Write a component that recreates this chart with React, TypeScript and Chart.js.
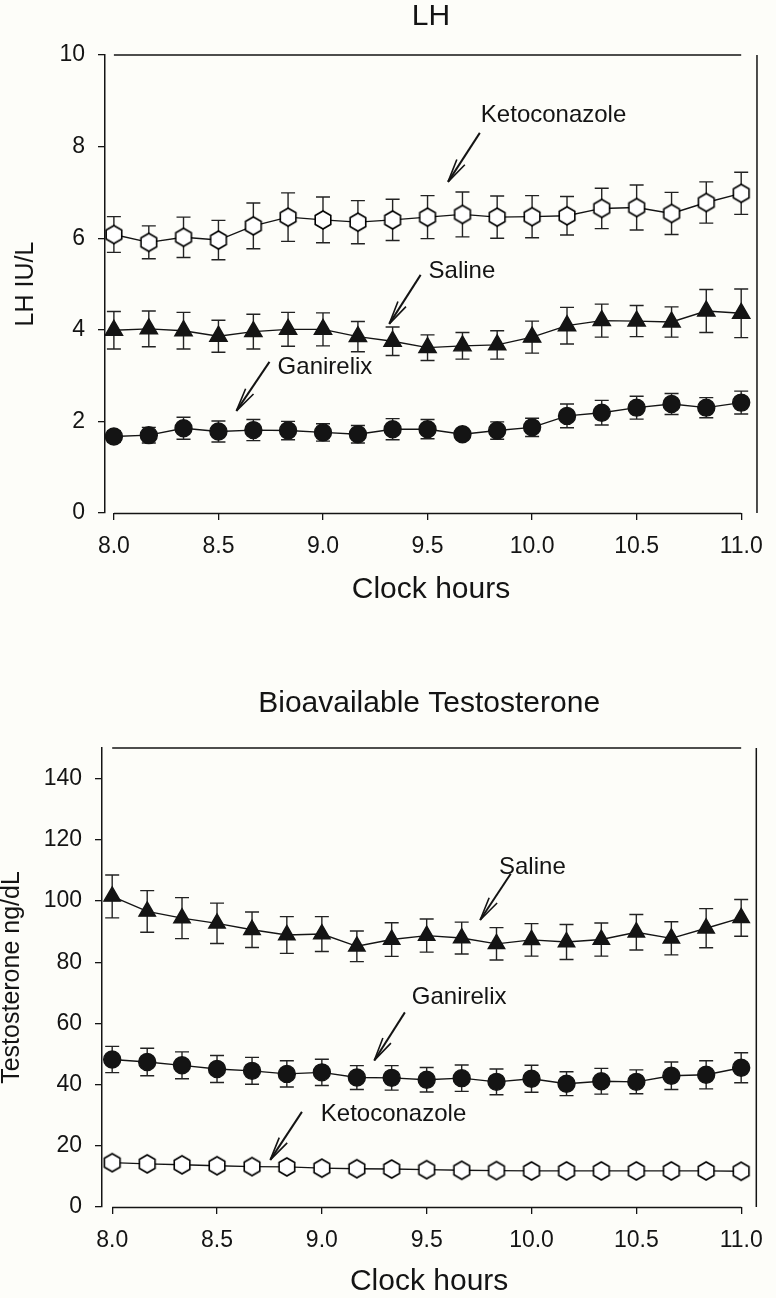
import React, { useEffect, useRef } from "react";
import { Chart, registerables } from "chart.js";

Chart.register(...registerables);

// ---------- data ----------
const hours = [8.0, 8.167, 8.333, 8.5, 8.667, 8.833, 9.0, 9.167, 9.333, 9.5, 9.667, 9.833, 10.0, 10.167, 10.333, 10.5, 10.667, 10.833, 11.0];
const xTickValues = [8.0, 8.5, 9.0, 9.5, 10.0, 10.5, 11.0];

const lhYTicks = [0, 2, 4, 6, 8, 10];
const lhKeto = [6.08, 5.91, 6.02, 5.96, 6.27, 6.46, 6.40, 6.35, 6.40, 6.46, 6.52, 6.46, 6.47, 6.49, 6.65, 6.67, 6.54, 6.78, 6.98];
const lhKetoErr = [0.39, 0.36, 0.44, 0.43, 0.50, 0.53, 0.50, 0.47, 0.45, 0.47, 0.49, 0.46, 0.46, 0.42, 0.44, 0.49, 0.46, 0.45, 0.46];
const lhSaline = [3.99, 4.02, 3.98, 3.86, 3.96, 4.01, 4.01, 3.85, 3.75, 3.61, 3.65, 3.67, 3.84, 4.09, 4.20, 4.19, 4.17, 4.41, 4.36];
const lhSalineErr = [0.41, 0.39, 0.40, 0.35, 0.38, 0.37, 0.36, 0.33, 0.31, 0.28, 0.29, 0.31, 0.35, 0.40, 0.36, 0.34, 0.33, 0.47, 0.53];
const lhGan = [1.67, 1.70, 1.85, 1.78, 1.81, 1.80, 1.76, 1.72, 1.83, 1.83, 1.72, 1.80, 1.87, 2.12, 2.19, 2.30, 2.38, 2.30, 2.41];
const lhGanErr = [0.12, 0.17, 0.24, 0.23, 0.23, 0.20, 0.19, 0.19, 0.23, 0.21, 0.10, 0.19, 0.20, 0.26, 0.27, 0.25, 0.23, 0.22, 0.25];

const tYTicks = [0, 20, 40, 60, 80, 100, 120, 140];
const tSaline = [101.5, 96.6, 94.4, 92.7, 90.6, 88.9, 89.2, 85.2, 87.4, 88.7, 87.9, 86.0, 87.3, 86.6, 87.4, 89.8, 87.8, 91.1, 94.5];
const tSalineErr = [7.0, 6.8, 6.7, 6.6, 5.8, 6.0, 5.7, 5.0, 5.5, 5.4, 5.2, 5.3, 5.3, 5.7, 5.4, 5.8, 5.4, 6.4, 6.0];
const tGan = [48.2, 47.4, 46.3, 45.1, 44.5, 43.5, 44.0, 42.3, 42.2, 41.6, 42.1, 40.9, 41.9, 40.3, 41.1, 40.9, 42.9, 43.2, 45.5];
const tGanErr = [4.3, 4.5, 4.4, 4.4, 4.4, 4.3, 4.3, 3.9, 4.0, 4.0, 4.3, 4.2, 4.4, 3.9, 4.2, 3.9, 4.5, 4.6, 4.9];
const tKeto = [14.5, 14.1, 13.8, 13.5, 13.2, 13.1, 12.7, 12.5, 12.4, 12.2, 12.0, 11.9, 11.8, 11.8, 11.8, 11.8, 11.8, 11.8, 11.7];
const tKetoErr = [1.0, 1.0, 1.0, 0.9, 0.9, 0.9, 0.9, 0.9, 0.9, 0.9, 0.8, 0.8, 0.8, 0.8, 0.8, 0.8, 0.8, 0.8, 0.8];

// annotation labels and arrows, in data units
const lhNoteText = ["Ketoconazole", "Saline", "Ganirelix"];
const lhNoteTextX = [9.755, 9.505, 8.783];
const lhNoteTextY = [8.69, 5.27, 3.19];
const lhArrowFromX = [9.75, 9.467, 8.744];
const lhArrowFromY = [8.30, 5.20, 3.30];
const lhArrowTipX = [9.598, 9.317, 8.586];
const lhArrowTipY = [7.23, 4.13, 2.23];

const tNoteText = ["Saline", "Ganirelix", "Ketoconazole"];
const tNoteTextX = [9.845, 9.429, 8.995];
const tNoteTextY = [111.1, 68.5, 30.2];
const tArrowFromX = [9.901, 9.396, 8.905];
const tArrowFromY = [108.9, 63.6, 31.1];
const tArrowTipX = [9.755, 9.25, 8.754];
const tArrowTipY = [93.8, 47.9, 15.4];

// ---------- styling ----------
const FONT = "'Liberation Sans', Arial, Helvetica, sans-serif";
const INK = "#141414";
const BG = "#fdfdf9";

function makeHexagon(r: number): HTMLCanvasElement {
  const s = Math.ceil(r * 2 + 4);
  const c = document.createElement("canvas");
  c.width = s;
  c.height = s;
  const ctx = c.getContext("2d")!;
  ctx.translate(s / 2, s / 2);
  ctx.beginPath();
  for (let i = 0; i < 6; i++) {
    const a = -Math.PI / 2 + (i * Math.PI) / 3;
    const px = r * Math.cos(a);
    const py = r * Math.sin(a);
    if (i === 0) ctx.moveTo(px, py);
    else ctx.lineTo(px, py);
  }
  ctx.closePath();
  ctx.fillStyle = "#ffffff";
  ctx.fill();
  ctx.lineWidth = 1.6;
  ctx.strokeStyle = "#000000";
  ctx.stroke();
  return c;
}

const errorBarPlugin = {
  id: "errorBars",
  beforeDatasetsDraw(chart: any) {
    const ctx = chart.ctx;
    const ys = chart.scales.y;
    chart.data.datasets.forEach((ds: any, di: number) => {
      const errs = ds.errors;
      if (!errs) return;
      const meta = chart.getDatasetMeta(di);
      ctx.save();
      ctx.strokeStyle = "#222222";
      ctx.lineWidth = 1.4;
      meta.data.forEach((pt: any, i: number) => {
        const v = ds.data[i].y;
        const e = errs[i];
        const top = ys.getPixelForValue(v + e);
        const bot = ys.getPixelForValue(v - e);
        ctx.beginPath();
        ctx.moveTo(pt.x, top);
        ctx.lineTo(pt.x, bot);
        ctx.moveTo(pt.x - 7, top);
        ctx.lineTo(pt.x + 7, top);
        ctx.moveTo(pt.x - 7, bot);
        ctx.lineTo(pt.x + 7, bot);
        ctx.stroke();
      });
      ctx.restore();
    });
  },
};

const framePlugin = {
  id: "frame",
  beforeDatasetsDraw(chart: any) {
    const { ctx, chartArea } = chart;
    const xs = chart.scales.x;
    const x0 = xs.getPixelForValue(xTickValues[0]);
    const x1 = xs.getPixelForValue(xTickValues[xTickValues.length - 1]);
    ctx.save();
    ctx.strokeStyle = INK;
    ctx.lineWidth = 1.5;
    ctx.beginPath();
    ctx.moveTo(x0, chartArea.top);
    ctx.lineTo(x1, chartArea.top);
    ctx.moveTo(chartArea.right, chartArea.top);
    ctx.lineTo(chartArea.right, chartArea.bottom);
    ctx.moveTo(x0, chartArea.bottom + 0.5);
    ctx.lineTo(x1, chartArea.bottom + 0.5);
    ctx.stroke();
    ctx.restore();
  },
};

const textPlugin = {
  id: "panelText",
  afterDraw(chart: any) {
    const opts = chart.options.plugins.panelText;
    if (!opts) return;
    const { ctx, chartArea } = chart;
    const xs = chart.scales.x;
    const ys = chart.scales.y;
    ctx.save();
    ctx.fillStyle = INK;
    ctx.textBaseline = "middle";
    ctx.textAlign = "center";
    ctx.font = `${opts.titleSize}px ${FONT}`;
    ctx.fillText(opts.title, (chartArea.left + chartArea.right) / 2, opts.titleY);

    ctx.font = `24px ${FONT}`;
    ctx.textAlign = "left";
    ctx.strokeStyle = INK;
    opts.notes.forEach((n: any) => {
      ctx.fillText(n.text, xs.getPixelForValue(n.tx), ys.getPixelForValue(n.ty));
      const ax = xs.getPixelForValue(n.fx);
      const ay = ys.getPixelForValue(n.fy);
      const bx = xs.getPixelForValue(n.px);
      const by = ys.getPixelForValue(n.py);
      const ang = Math.atan2(ay - by, ax - bx);
      ctx.lineWidth = 2;
      ctx.beginPath();
      ctx.moveTo(ax, ay);
      ctx.lineTo(bx, by);
      ctx.stroke();
      ctx.lineWidth = 1.6;
      const L = 24;
      const spread = 0.2;
      ctx.beginPath();
      ctx.moveTo(bx, by);
      ctx.lineTo(bx + L * Math.cos(ang + spread), by + L * Math.sin(ang + spread));
      ctx.moveTo(bx, by);
      ctx.lineTo(bx + L * Math.cos(ang - spread), by + L * Math.sin(ang - spread));
      ctx.stroke();
    });
    ctx.restore();
  },
};

function buildNotes(text: string[], tx: number[], ty: number[], fx: number[], fy: number[], px: number[], py: number[]) {
  return text.map((t, i) => ({ text: t, tx: tx[i], ty: ty[i], fx: fx[i], fy: fy[i], px: px[i], py: py[i] }));
}

function pts(vals: number[]) {
  return vals.map((v, i) => ({ x: hours[i], y: v }));
}

interface PanelSpec {
  width: number;
  height: number;
  padTop: number;
  padRight: number;
  yWidth: number;
  xHeight: number;
  xMin: number;
  xMax: number;
  yMin: number;
  yMax: number;
  yTicks: number[];
  yTitle: string;
  yTitlePad: number;
  xTitlePad: number;
  xTitleLineHeight: number;
  title: string;
  titleY: number;
  datasets: any[];
  notes: any[];
}

function Panel({ spec, top }: { spec: PanelSpec; top: number }) {
  const ref = useRef<HTMLCanvasElement | null>(null);
  useEffect(() => {
    if (!ref.current) return;
    const chart = new Chart(ref.current, {
      type: "line",
      data: { datasets: spec.datasets },
      options: {
        animation: false,
        responsive: false,
        devicePixelRatio: 1,
        events: [],
        layout: { padding: { top: spec.padTop, right: spec.padRight, left: 0, bottom: 0 } },
        plugins: {
          legend: { display: false },
          tooltip: { enabled: false },
          title: { display: false },
          panelText: { title: spec.title, titleY: spec.titleY, titleSize: 30, notes: spec.notes },
        } as any,
        scales: {
          x: {
            type: "linear",
            min: spec.xMin,
            max: spec.xMax,
            afterBuildTicks: (s: any) => {
              s.ticks = xTickValues.map((v) => ({ value: v }));
            },
            afterFit: (s: any) => {
              s.height = spec.xHeight;
            },
            ticks: {
              callback: (v: any) => Number(v).toFixed(1),
              font: { family: FONT, size: 23 },
              color: INK,
              padding: 13,
              maxRotation: 0,
              autoSkip: false,
            },
            grid: { drawOnChartArea: false, drawTicks: true, tickLength: 7, color: INK, lineWidth: 1.3 },
            border: { display: false },
            title: {
              display: true,
              text: "Clock hours",
              color: INK,
              font: { family: FONT, size: 30, lineHeight: spec.xTitleLineHeight },
              padding: { top: 0, bottom: spec.xTitlePad },
            },
          },
          y: {
            type: "linear",
            min: spec.yMin,
            max: spec.yMax,
            afterBuildTicks: (s: any) => {
              s.ticks = spec.yTicks.map((v) => ({ value: v }));
            },
            afterFit: (s: any) => {
              s.width = spec.yWidth;
            },
            ticks: {
              callback: (v: any) => String(v),
              font: { family: FONT, size: 23 },
              color: INK,
              padding: 13,
            },
            grid: { drawOnChartArea: false, drawTicks: true, tickLength: 7, color: INK, lineWidth: 1.3 },
            border: { display: true, color: INK, width: 1.5 },
            title: {
              display: true,
              text: spec.yTitle,
              color: INK,
              font: { family: FONT, size: 25, lineHeight: 1 },
              padding: { top: spec.yTitlePad, bottom: 0 },
            },
          },
        },
      } as any,
      plugins: [framePlugin, errorBarPlugin, textPlugin],
    });
    return () => chart.destroy();
  }, [spec]);
  return (
    <canvas
      ref={ref}
      width={spec.width}
      height={spec.height}
      style={{ position: "absolute", left: 0, top, width: spec.width, height: spec.height, display: "block" }}
    />
  );
}

export default function App() {
  const specs = React.useMemo(() => {
    const hex = makeHexagon(9);
    const lineBase = { borderColor: INK, borderWidth: 1.4, tension: 0, clip: false as any, showLine: true };

    const lhSpec: PanelSpec = {
      width: 776,
      height: 620,
      padTop: 55,
      padRight: 10,
      yWidth: 105,
      xHeight: 107,
      xMin: 7.9575,
      xMax: 11.0755,
      yMin: 0,
      yMax: 10,
      yTicks: lhYTicks,
      yTitle: "LH IU/L",
      yTitlePad: 14,
      xTitlePad: 12,
      xTitleLineHeight: 1.2,
      title: "LH",
      titleY: 17,
      datasets: [
        { ...lineBase, label: "Ketoconazole", data: pts(lhKeto), errors: lhKetoErr, pointStyle: hex, pointRadius: 9 },
        { ...lineBase, label: "Saline", data: pts(lhSaline), errors: lhSalineErr, pointStyle: "triangle", pointRadius: 10, pointBackgroundColor: INK, pointBorderColor: INK },
        { ...lineBase, label: "Ganirelix", data: pts(lhGan), errors: lhGanErr, pointStyle: "circle", pointRadius: 8.5, pointBackgroundColor: INK, pointBorderColor: INK },
      ],
      notes: buildNotes(lhNoteText, lhNoteTextX, lhNoteTextY, lhArrowFromX, lhArrowFromY, lhArrowTipX, lhArrowTipY),
    };

    const tSpec: PanelSpec = {
      width: 776,
      height: 658,
      padTop: 108,
      padRight: 13,
      yWidth: 102,
      xHeight: 91,
      xMin: 7.9514,
      xMax: 11.0722,
      yMin: 0,
      yMax: 150,
      yTicks: tYTicks,
      yTitle: "Testosterone ng/dL",
      yTitlePad: 0,
      xTitlePad: 1,
      xTitleLineHeight: 1,
      title: "Bioavailable Testosterone",
      titleY: 64,
      datasets: [
        { ...lineBase, label: "Saline", data: pts(tSaline), errors: tSalineErr, pointStyle: "triangle", pointRadius: 9.5, pointBackgroundColor: INK, pointBorderColor: INK },
        { ...lineBase, label: "Ganirelix", data: pts(tGan), errors: tGanErr, pointStyle: "circle", pointRadius: 8.5, pointBackgroundColor: INK, pointBorderColor: INK },
        { ...lineBase, label: "Ketoconazole", data: pts(tKeto), errors: tKetoErr, pointStyle: hex, pointRadius: 9 },
      ],
      notes: buildNotes(tNoteText, tNoteTextX, tNoteTextY, tArrowFromX, tArrowFromY, tArrowTipX, tArrowTipY),
    };
    return { lh: lhSpec, t: tSpec };
  }, []);

  return (
    <div style={{ position: "absolute", left: 0, top: 0, width: 776, height: 1298, overflow: "hidden", background: BG }}>
      <Panel spec={specs.lh} top={0} />
      <Panel spec={specs.t} top={640} />
    </div>
  );
}
